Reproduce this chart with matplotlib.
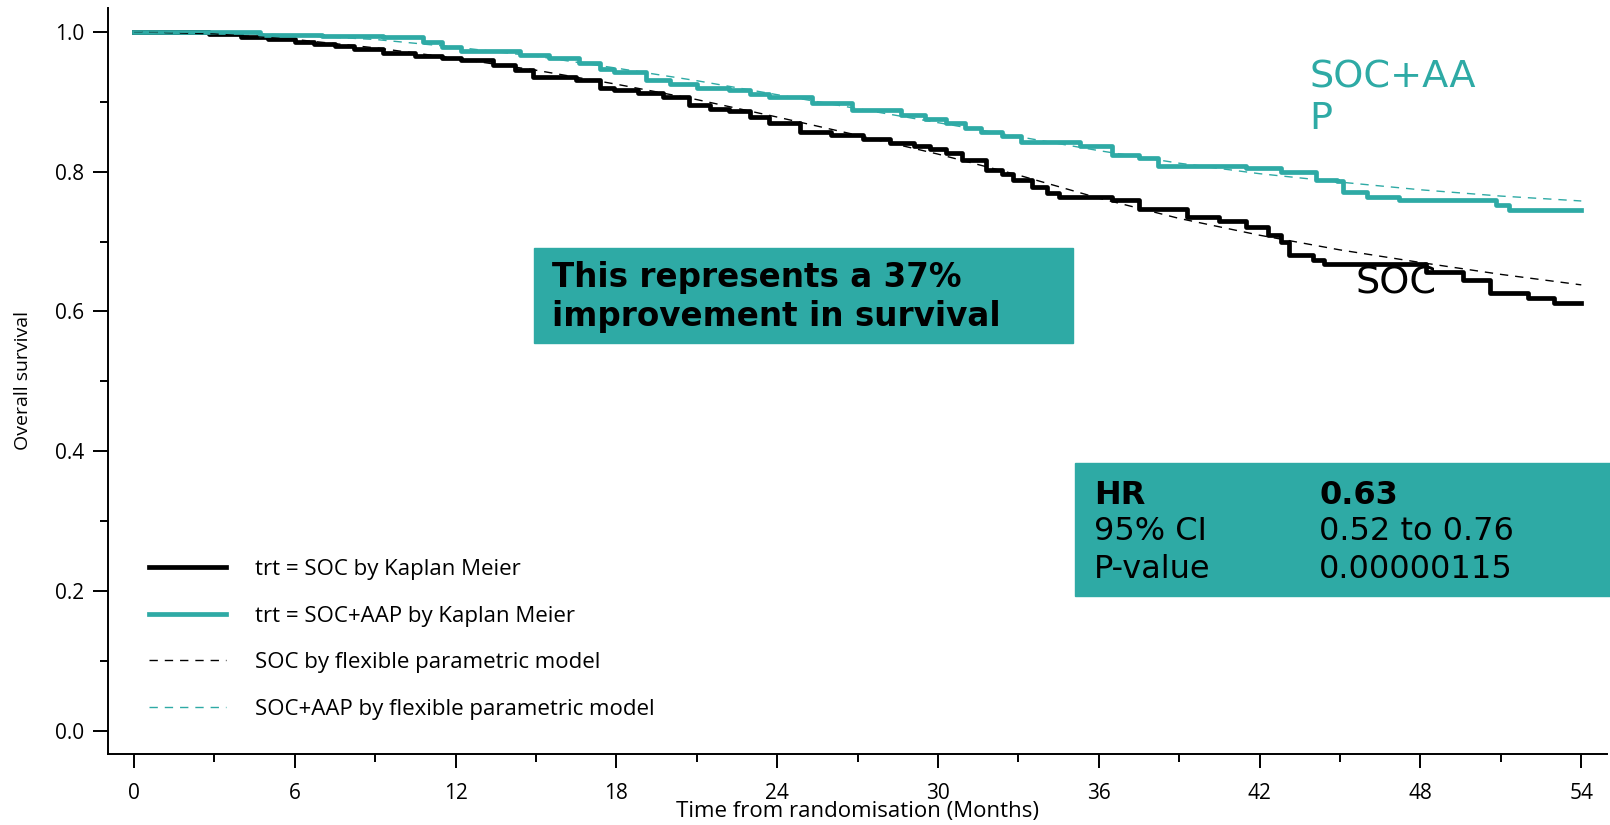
import matplotlib
matplotlib.use("Agg")
import matplotlib.pyplot as plt
from matplotlib.patches import Rectangle
from matplotlib.ticker import MultipleLocator

# --- Kaplan Meier estimates (months, survival) ---
soc_t = [0, 2.0, 2.8, 4.0, 5.0, 6.0, 6.7, 7.5, 8.2, 9.3, 10.5, 11.5, 12.2, 13.4,
         14.2, 14.9, 16.5, 17.4, 17.9, 18.8, 19.75, 20.7, 21.5, 22.2, 23.0, 23.7,
         24.85, 26.0, 27.2, 28.2, 29.1, 29.7, 30.3, 30.9, 31.8, 32.4, 32.8, 33.5,
         34.05, 34.5, 36.5, 37.5, 38.8, 39.3, 40.5, 41.5, 42.3, 42.8, 43.1, 44.0,
         44.4, 48.2, 49.6, 50.6, 52.0, 53.0, 54.0]
soc_s = [1.0, 1.0, 0.997, 0.993, 0.990, 0.986, 0.983, 0.979, 0.976, 0.969, 0.965,
         0.962, 0.960, 0.952, 0.945, 0.936, 0.931, 0.919, 0.917, 0.912, 0.907,
         0.895, 0.890, 0.886, 0.878, 0.869, 0.857, 0.852, 0.847, 0.841, 0.836,
         0.833, 0.826, 0.817, 0.803, 0.797, 0.788, 0.778, 0.769, 0.764, 0.759,
         0.746, 0.746, 0.735, 0.729, 0.721, 0.709, 0.700, 0.681, 0.674, 0.668,
         0.656, 0.645, 0.626, 0.619, 0.612, 0.612]

aap_t = [0, 4.7, 7.0, 9.3, 10.8, 11.5, 12.2, 14.4, 15.5, 16.6, 17.4, 17.9, 19.1,
         20.0, 21.0, 22.2, 23.0, 23.7, 25.3, 26.8, 28.6, 29.5, 30.3, 31.0, 31.6,
         32.4, 33.1, 35.3, 36.5, 37.5, 38.2, 40.6, 41.5, 42.8, 44.1, 44.9, 45.1,
         46.0, 47.2, 50.8, 51.3, 54.0]
aap_s = [1.0, 0.996, 0.994, 0.992, 0.986, 0.978, 0.972, 0.967, 0.962, 0.955,
         0.947, 0.943, 0.931, 0.925, 0.919, 0.917, 0.911, 0.906, 0.898, 0.888,
         0.881, 0.875, 0.869, 0.863, 0.857, 0.851, 0.843, 0.836, 0.824, 0.819,
         0.808, 0.808, 0.805, 0.800, 0.788, 0.786, 0.771, 0.763, 0.759, 0.752,
         0.745, 0.745]

# --- flexible parametric model fits ---
fpm_t = [0, 3, 6, 9, 12, 15, 18, 21, 24, 27, 30, 33, 36, 39, 42, 45, 48, 51, 54]
fpm_soc = [1.0, 0.997, 0.989, 0.977, 0.962, 0.945, 0.925, 0.903, 0.878, 0.852,
           0.825, 0.795, 0.762, 0.733, 0.709, 0.688, 0.670, 0.653, 0.638]
fpm_aap = [1.0, 0.999, 0.995, 0.989, 0.978, 0.965, 0.948, 0.930, 0.910, 0.890,
           0.870, 0.850, 0.830, 0.812, 0.797, 0.785, 0.774, 0.765, 0.758]

x_ticks = [0, 6, 12, 18, 24, 30, 36, 42, 48, 54]
y_ticks = [0.0, 0.2, 0.4, 0.6, 0.8, 1.0]

TEAL = "#2eaaa5"
AXIS_FONT = "Open Sans"
BOX_FONT = "DejaVu Sans"

fig = plt.figure(figsize=(16.1, 8.25), dpi=100)
W, H = 1610, 825
ax = fig.add_axes([108 / W, 71 / H, 1499 / W, 746 / H])

ax.plot(soc_t, soc_s, drawstyle="steps-post", color="black", lw=3.4,
        label="trt = SOC by Kaplan Meier", zorder=3)
ax.plot(aap_t, aap_s, drawstyle="steps-post", color=TEAL, lw=3.4,
        label="trt = SOC+AAP by Kaplan Meier", zorder=3)
ax.plot(fpm_t, fpm_soc, color="black", lw=1.0, ls=(0, (6, 5)),
        label="SOC by flexible parametric model", zorder=4)
ax.plot(fpm_t, fpm_aap, color=TEAL, lw=1.0, ls=(0, (6, 5)),
        label="SOC+AAP by flexible parametric model", zorder=4)

ax.set_xlim(-0.97, 54.96)
ax.set_ylim(-0.033, 1.034)
ax.set_xticks(x_ticks)
ax.set_yticks(y_ticks)
ax.set_yticklabels([f"{v:.1f}" for v in y_ticks])
ax.xaxis.set_minor_locator(MultipleLocator(3))
ax.yaxis.set_minor_locator(MultipleLocator(0.1))
for s in ("top", "right"):
    ax.spines[s].set_visible(False)
for s in ("left", "bottom"):
    ax.spines[s].set_linewidth(1.4)
ax.tick_params(which="major", length=10, width=1.4, labelsize=15, pad=11, axis="x")
ax.tick_params(which="major", length=11, width=1.4, labelsize=15, pad=6, axis="y")
ax.tick_params(which="minor", length=6, width=1.4)
for lab in ax.get_xticklabels() + ax.get_yticklabels():
    lab.set_fontfamily(AXIS_FONT)

fig.text(22.6 / W, 1 - 380 / H, "Overall survival", rotation=90, ha="center",
         va="center", fontsize=14, family=AXIS_FONT)
fig.text(857 / W, 1 - 812 / H, "Time from randomisation (Months)", ha="center",
         va="center", fontsize=16, family=AXIS_FONT)

leg = ax.legend(loc="upper left", bbox_to_anchor=(138 / W, 1 - 548 / H),
                bbox_transform=fig.transFigure, frameon=False, borderpad=0,
                handlelength=3.45, handletextpad=1.3, labelspacing=1.15,
                prop={"family": AXIS_FONT, "size": 16})

# curve labels
fig.text(1309 / W, 1 - 98 / H, "SOC+AA\nP", color=TEAL, fontsize=27.5,
         family=BOX_FONT, ha="left", va="center", linespacing=1.2)
fig.text(1355 / W, 1 - 284 / H, "SOC", color="black", fontsize=27.5,
         family=BOX_FONT, ha="left", va="center")

# annotation boxes
fig.patches.append(Rectangle((534 / W, 1 - 343 / H), 539 / W, 95 / H,
                             transform=fig.transFigure, color=TEAL, zorder=5))
fig.text(552 / W, 1 - 297 / H, "This represents a 37%\nimprovement in survival",
         fontsize=23.5, weight="bold", family=BOX_FONT, ha="left", va="center",
         linespacing=1.2, zorder=6)

fig.patches.append(Rectangle((1075 / W, 1 - 596 / H), 535 / W, 133 / H,
                             transform=fig.transFigure, color=TEAL, zorder=5))
rows = [("HR", "0.63", "bold"), ("95% CI", "0.52 to 0.76", "normal"),
        ("P-value", "0.00000115", "normal")]
for i, (k, v, wt) in enumerate(rows):
    y = 1 - (495 + 37 * i) / H
    fig.text(1094 / W, y, k, fontsize=23, weight=wt, family=BOX_FONT,
             ha="left", va="center", zorder=6)
    fig.text(1319 / W, y, v, fontsize=23, weight=wt, family=BOX_FONT,
             ha="left", va="center", zorder=6)

fig.savefig("out.png", dpi=100)
